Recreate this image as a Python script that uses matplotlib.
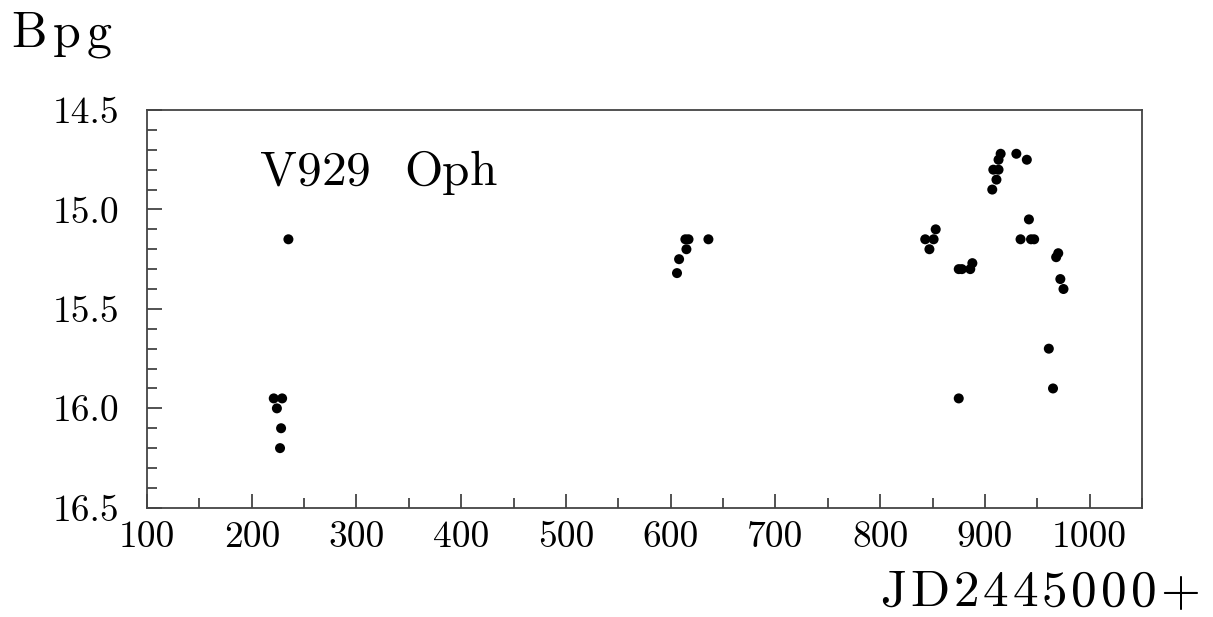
import matplotlib
matplotlib.use("Agg")
import matplotlib.pyplot as plt
from matplotlib.ticker import MultipleLocator
from matplotlib.font_manager import FontProperties, findfont, get_font

plt.rcParams['font.family'] = ['cmr10', 'DejaVu Serif']
plt.rcParams['axes.formatter.use_mathtext'] = True

# V929 Oph photographic magnitudes, JD - 2445000
jd = [235, 221, 229, 224, 228, 227,
      606, 608, 615, 614, 617, 636,
      843, 847, 851, 853, 875, 878, 886, 888, 875,
      907, 911, 908, 913, 913, 915, 930, 940, 942, 934, 944, 947,
      961, 965, 968, 970, 972, 975]
bpg = [15.15, 15.95, 15.95, 16.0, 16.1, 16.2,
       15.32, 15.25, 15.2, 15.15, 15.15, 15.15,
       15.15, 15.2, 15.15, 15.1, 15.3, 15.3, 15.3, 15.27, 15.95,
       14.9, 14.85, 14.8, 14.8, 14.75, 14.72, 14.72, 14.75, 15.05, 15.15, 15.15, 15.15,
       15.7, 15.9, 15.24, 15.22, 15.35, 15.4]

xticks = [100, 200, 300, 400, 500, 600, 700, 800, 900, 1000]
yticks = [14.5, 15.0, 15.5, 16.0, 16.5]

W, H = 1213, 617
fig = plt.figure(figsize=(W / 100, H / 100), dpi=100)
ax = fig.add_axes([0.1212, 0.177, 0.8203, 0.6447])


def spaced_text(x0, x1, ybase, s, size):
    # letter-spaced label stretched between pixel columns x0 and x1
    fp = FontProperties(family="cmr10", size=size)
    font = get_font(findfont(fp))
    font.set_size(size, 100)
    adv = [font.load_char(ord(c)).linearHoriAdvance / 65536 for c in s]
    gap = ((x1 - x0) - sum(adv)) / (len(s) - 1)
    x = x0
    for c, a in zip(s, adv):
        if c != " ":
            fig.text(x / W, 1 - ybase / H, c, fontproperties=fp,
                     ha="left", va="baseline")
        x += a + gap


ax.scatter(jd, bpg, s=52, color="black", edgecolors="none", zorder=3)

ax.set_xlim(100, 1050)
ax.set_ylim(16.5, 14.5)
ax.set_xticks(xticks)
ax.set_xticklabels([str(v) for v in xticks])
ax.set_yticks(yticks)
ax.set_yticklabels(["%.1f" % v for v in yticks])
ax.xaxis.set_minor_locator(MultipleLocator(50))
ax.yaxis.set_minor_locator(MultipleLocator(0.1))

edge = "#444444"
for s in ax.spines.values():
    s.set_color(edge)
    s.set_linewidth(1.3)

ax.tick_params(which="both", direction="in", top=False, right=False,
               color=edge, width=1.3, labelsize=27)
ax.tick_params(axis="x", which="major", length=10, pad=9)
ax.tick_params(axis="x", which="minor", length=7)
ax.tick_params(axis="y", which="major", length=10.5, pad=20)
ax.tick_params(axis="y", which="minor", length=7)

spaced_text(260, 497, 185, "V929  Oph", 35.5)
spaced_text(11, 112, 47, "Bpg", 36)
spaced_text(880, 1200, 606, "JD2445000+", 37)

fig.savefig("out.png", dpi=100)
